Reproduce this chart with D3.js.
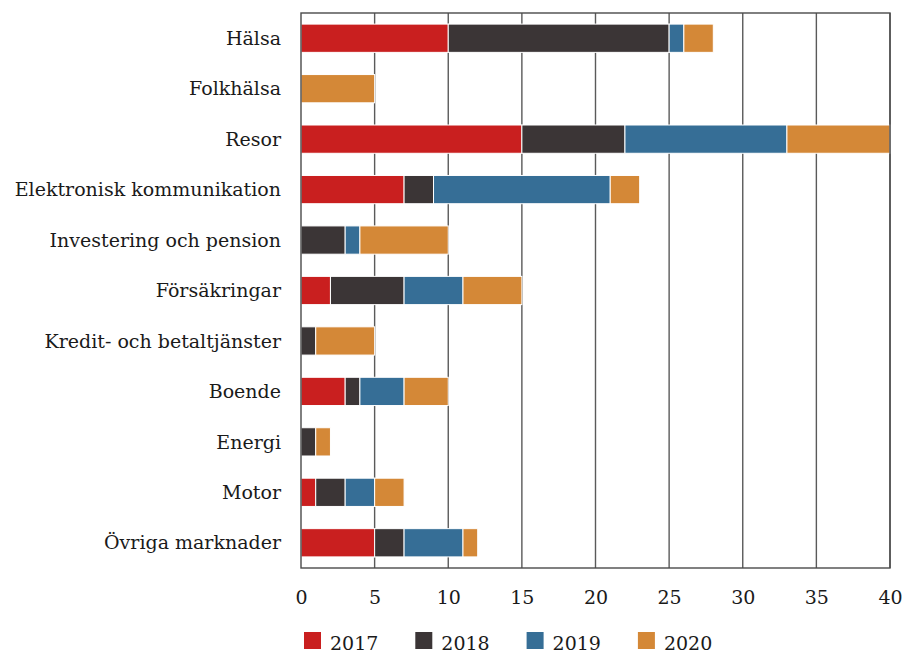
<html>
<head>
  <meta charset='utf-8' />
  <style>
    body { margin: 0; padding: 0; background: #fff; }
    text { font-family: 'DejaVu Serif', serif; fill: #1a1a1a; }
  </style>
</head>
<body>
  <svg width='903' height='653'></svg>

<script src="https://d3js.org/d3.v7.min.js"></script>
<script>
///////////////////
/// Data
///////////////////

  categories = ['Hälsa', 'Folkhälsa', 'Resor', 'Elektronisk kommunikation',
    'Investering och pension', 'Försäkringar', 'Kredit- och betaltjänster',
    'Boende', 'Energi', 'Motor', 'Övriga marknader'];

  years = ['2017', '2018', '2019', '2020'];

  v2017 = [10, 0, 15, 7, 0, 2, 0, 3, 0, 1, 5];
  v2018 = [15, 0, 7, 2, 3, 5, 1, 1, 1, 2, 2];
  v2019 = [1, 0, 11, 12, 1, 4, 0, 3, 0, 2, 4];
  v2020 = [2, 5, 7, 2, 6, 4, 4, 3, 1, 2, 1];

  xTicks = [0, 5, 10, 15, 20, 25, 30, 35, 40];

  colors = ['#c91f1f', '#3b3536', '#366e96', '#d48837'];

  rows = categories.map((c, i) => ({
    cat: c, '2017': v2017[i], '2018': v2018[i], '2019': v2019[i], '2020': v2020[i]
  }));

///////////////////
/// Scales
///////////////////

  svg = d3.select('svg');

  x = d3.scaleLinear().domain([0, 40]).range([301, 890]);
  y = d3.scaleBand().domain(categories).range([13, 568]).paddingInner(0.44).paddingOuter(0.22);
  color = d3.scaleOrdinal().domain(years).range(colors);

  // gridlines
  svg.append('g')
    .selectAll('line')
    .data(xTicks.slice(1))
    .enter().append('line')
    .attr('x1', d => x(d)).attr('x2', d => x(d))
    .attr('y1', 13).attr('y2', 568)
    .attr('stroke', '#5a5a5a')
    .attr('stroke-width', 1.4);

  // bars
  series = d3.stack().keys(years)(rows);

  svg.append('g')
    .selectAll('g')
    .data(series)
    .enter().append('g')
    .attr('fill', d => color(d.key))
    .selectAll('rect')
    .data(d => d)
    .enter().append('rect')
    .filter(d => d[1] - d[0] > 0)
    .attr('x', d => x(d[0]))
    .attr('y', d => y(d.data.cat))
    .attr('width', d => x(d[1]) - x(d[0]))
    .attr('height', y.bandwidth())
    .attr('stroke', '#fff')
    .attr('stroke-width', 1);

  // frame
  svg.append('rect')
    .attr('x', 301).attr('y', 13)
    .attr('width', 589).attr('height', 555)
    .attr('fill', 'none')
    .attr('stroke', '#4a4a4a')
    .attr('stroke-width', 1.4);

  // category labels
  svg.append('g')
    .selectAll('text')
    .data(categories)
    .enter().append('text')
    .attr('x', 281)
    .attr('y', d => y(d) + y.bandwidth() / 2)
    .attr('dy', '0.35em')
    .attr('text-anchor', 'end')
    .style('font-size', '19px')
    .text(d => d);

  // x axis labels
  xAxis = d3.axisBottom(x).tickValues(xTicks).tickSize(0).tickPadding(0);

  svg.append('g')
    .attr('transform', 'translate(0, 590)')
    .call(xAxis)
    .call(g => g.select('.domain').remove())
    .call(g => g.selectAll('text')
      .attr('dy', '0.72em')
      .style('font-size', '19px')
      .style('font-family', "'DejaVu Serif', serif")
      .attr('fill', '#1a1a1a'));

  // legend
  legend = svg.append('g')
    .selectAll('g')
    .data(years)
    .enter().append('g')
    .attr('transform', (d, i) => `translate(${304 + i * 111.3}, 632)`);

  legend.append('rect')
    .attr('width', 17).attr('height', 17)
    .attr('fill', d => color(d));

  legend.append('text')
    .attr('x', 26)
    .attr('y', 18)
    .style('font-size', '19px')
    .text(d => d);

</script>
</body>
</html>
